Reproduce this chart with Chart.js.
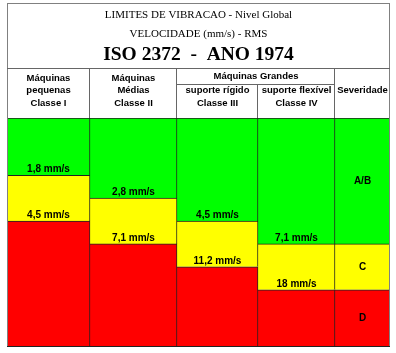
<!DOCTYPE html>
<html>
<head>
<meta charset="utf-8">
<script src="https://cdn.jsdelivr.net/npm/chart.js@4.4.1/dist/chart.umd.min.js"></script>
<style>
  html, body { margin: 0; padding: 0; background: #fff; }
  canvas { display: block; }
</style>
</head>
<body>
<canvas id="chart" width="396" height="353"></canvas>
<script>
// header cells, one entry per line
const classes = [
  ["Máquinas", "pequenas", "Classe I"],
  ["Máquinas", "Médias", "Classe II"],
  ["suporte rígido", "Classe III"],
  ["suporte flexível", "Classe IV"],
  ["Severidade", ""],
];
const groupLabel = "Máquinas Grandes"; // over classe III + IV

// limits in mm/s (top of A/B, top of C)
const limitAB = [1.8, 2.8, 4.5, 7.1];
const limitC = [4.5, 7.1, 11.2, 18];
const severity = ["A/B", "C", "D"];

// zone heights in ISO steps, bottom to top
const zoneD = [5.5, 4.5, 3.5, 2.5, 2.5];
const zoneC = [2, 2, 2, 2, 2];
const zoneAB = [2.5, 3.5, 4.5, 5.5, 5.5];

// table column widths (px)
const colWidths = [83, 87, 81, 77, 55];
const totalWidth = colWidths.reduce((a, b) => a + b, 0);

const SANS = "'Liberation Sans', Arial, sans-serif";
const SERIF = "'Liberation Serif', 'Times New Roman', serif";
Chart.defaults.font.family = SANS;
Chart.defaults.color = "#000";

// category scale with unequal column widths
class TableScale extends Chart.CategoryScale {
  static id = "table";
  colEdge(i) {
    let acc = 0;
    for (let k = 0; k < i; k++) acc += colWidths[k];
    return this.getPixelForDecimal(acc / totalWidth);
  }
  getPixelForValue(value) {
    if (typeof value !== "number") value = this.parse(value);
    if (value === null || isNaN(value)) return NaN;
    return (this.colEdge(value) + this.colEdge(value + 1)) / 2;
  }
}
Chart.register(TableScale);

const fmt = v => String(v).replace(".", ",") + " mm/s";

const zones = [
  { data: zoneD, color: "#ff0000" },
  { data: zoneC, color: "#ffff00" },
  { data: zoneAB, color: "#00ff00" },
];
const datasets = [];
zones.forEach(zone => {
  classes.forEach((_, c) => {
    datasets.push({
      data: zone.data.map((v, i) => (i === c ? v : null)),
      backgroundColor: zone.color,
      borderColor: "#222",
      borderWidth: { top: 1, right: 1, bottom: 0, left: c === 0 ? 1 : 0 },
      borderSkipped: false,
      barThickness: colWidths[c],
    });
  });
});

const zoneLabels = {
  id: "zoneLabels",
  afterDatasetsDraw(chart) {
    const { ctx } = chart;
    const n = classes.length;
    const bar = (z, c) => chart.getDatasetMeta(z * n + c).data[c];
    ctx.save();
    ctx.font = "bold 10px " + SANS;
    ctx.fillStyle = "#000";
    ctx.textAlign = "center";
    ctx.textBaseline = "middle";
    limitAB.forEach((v, c) => {
      const b = bar(2, c);
      ctx.fillText(fmt(v), b.x, b.base - 6);
    });
    limitC.forEach((v, c) => {
      const b = bar(1, c);
      ctx.fillText(fmt(v), b.x, b.base - 6);
    });
    severity.forEach((s, k) => {
      const b = bar(2 - k, n - 1);
      ctx.fillText(s, b.x, (b.y + b.base) / 2);
    });
    ctx.restore();
  },
};

const tableFrame = {
  id: "tableFrame",
  afterDraw(chart) {
    const { ctx, chartArea: a, scales: { x } } = chart;
    const e = [];
    for (let i = 0; i <= classes.length; i++) e.push(x.colEdge(i));
    const frameTop = 3.5;
    const headTop = a.top - 49.5;
    const groupLine = a.top - 33.5;
    ctx.save();
    ctx.lineWidth = 1;
    // outer box
    ctx.strokeStyle = "#808080";
    ctx.strokeRect(e[0] + 0.5, frameTop, e[5] - e[0] - 1, a.bottom - 0.5 - frameTop);
    // header grid
    ctx.strokeStyle = "#666";
    ctx.beginPath();
    ctx.moveTo(e[0], headTop); ctx.lineTo(e[5], headTop);
    ctx.moveTo(e[2], groupLine); ctx.lineTo(e[4], groupLine);
    [1, 2, 4].forEach(i => { ctx.moveTo(e[i] - 0.5, headTop); ctx.lineTo(e[i] - 0.5, a.top); });
    ctx.moveTo(e[3] - 0.5, groupLine); ctx.lineTo(e[3] - 0.5, a.top);
    ctx.stroke();
    // bottom line
    ctx.strokeStyle = "#222";
    ctx.beginPath();
    ctx.moveTo(e[0], a.bottom - 0.5); ctx.lineTo(e[5], a.bottom - 0.5);
    ctx.stroke();
    ctx.font = "bold 9.5px " + SANS;
    ctx.fillStyle = "#000";
    ctx.textAlign = "center";
    ctx.textBaseline = "middle";
    ctx.fillText(groupLabel, (e[2] + e[4]) / 2, headTop + 8);
    ctx.restore();
  },
};

new Chart(document.getElementById("chart"), {
  type: "bar",
  data: { labels: classes, datasets },
  options: {
    responsive: false,
    animation: false,
    events: [],
    layout: { padding: { top: 0, left: 7, right: 6, bottom: 6 } },
    plugins: {
      legend: { display: false },
      tooltip: { enabled: false },
      title: {
        display: true,
        text: ["LIMITES DE VIBRACAO - Nivel Global", "VELOCIDADE (mm/s) - RMS"],
        color: "#000",
        font: { family: SERIF, size: 11, weight: "normal", lineHeight: 18.5 / 11 },
        padding: { top: 6, bottom: 0 },
      },
      subtitle: {
        display: true,
        text: "ISO 2372  -  ANO 1974",
        color: "#000",
        font: { family: SERIF, size: 19.5, weight: "bold", lineHeight: 1.2 },
        padding: { top: 0, bottom: 5.8 },
      },
    },
    scales: {
      x: {
        type: "table",
        position: "top",
        stacked: true,
        offset: true,
        grid: { display: true, drawOnChartArea: false, color: "rgba(0,0,0,0)", tickLength: 8.75 },
        border: { display: false },
        ticks: {
          color: "#000",
          font: { family: SANS, size: 9.5, weight: "bold", lineHeight: 1.3 },
          padding: 0,
          autoSkip: false,
          maxRotation: 0,
        },
      },
      y: { stacked: true, min: 0, max: 10, display: false },
    },
  },
  plugins: [zoneLabels, tableFrame],
});
</script>
</body>
</html>
